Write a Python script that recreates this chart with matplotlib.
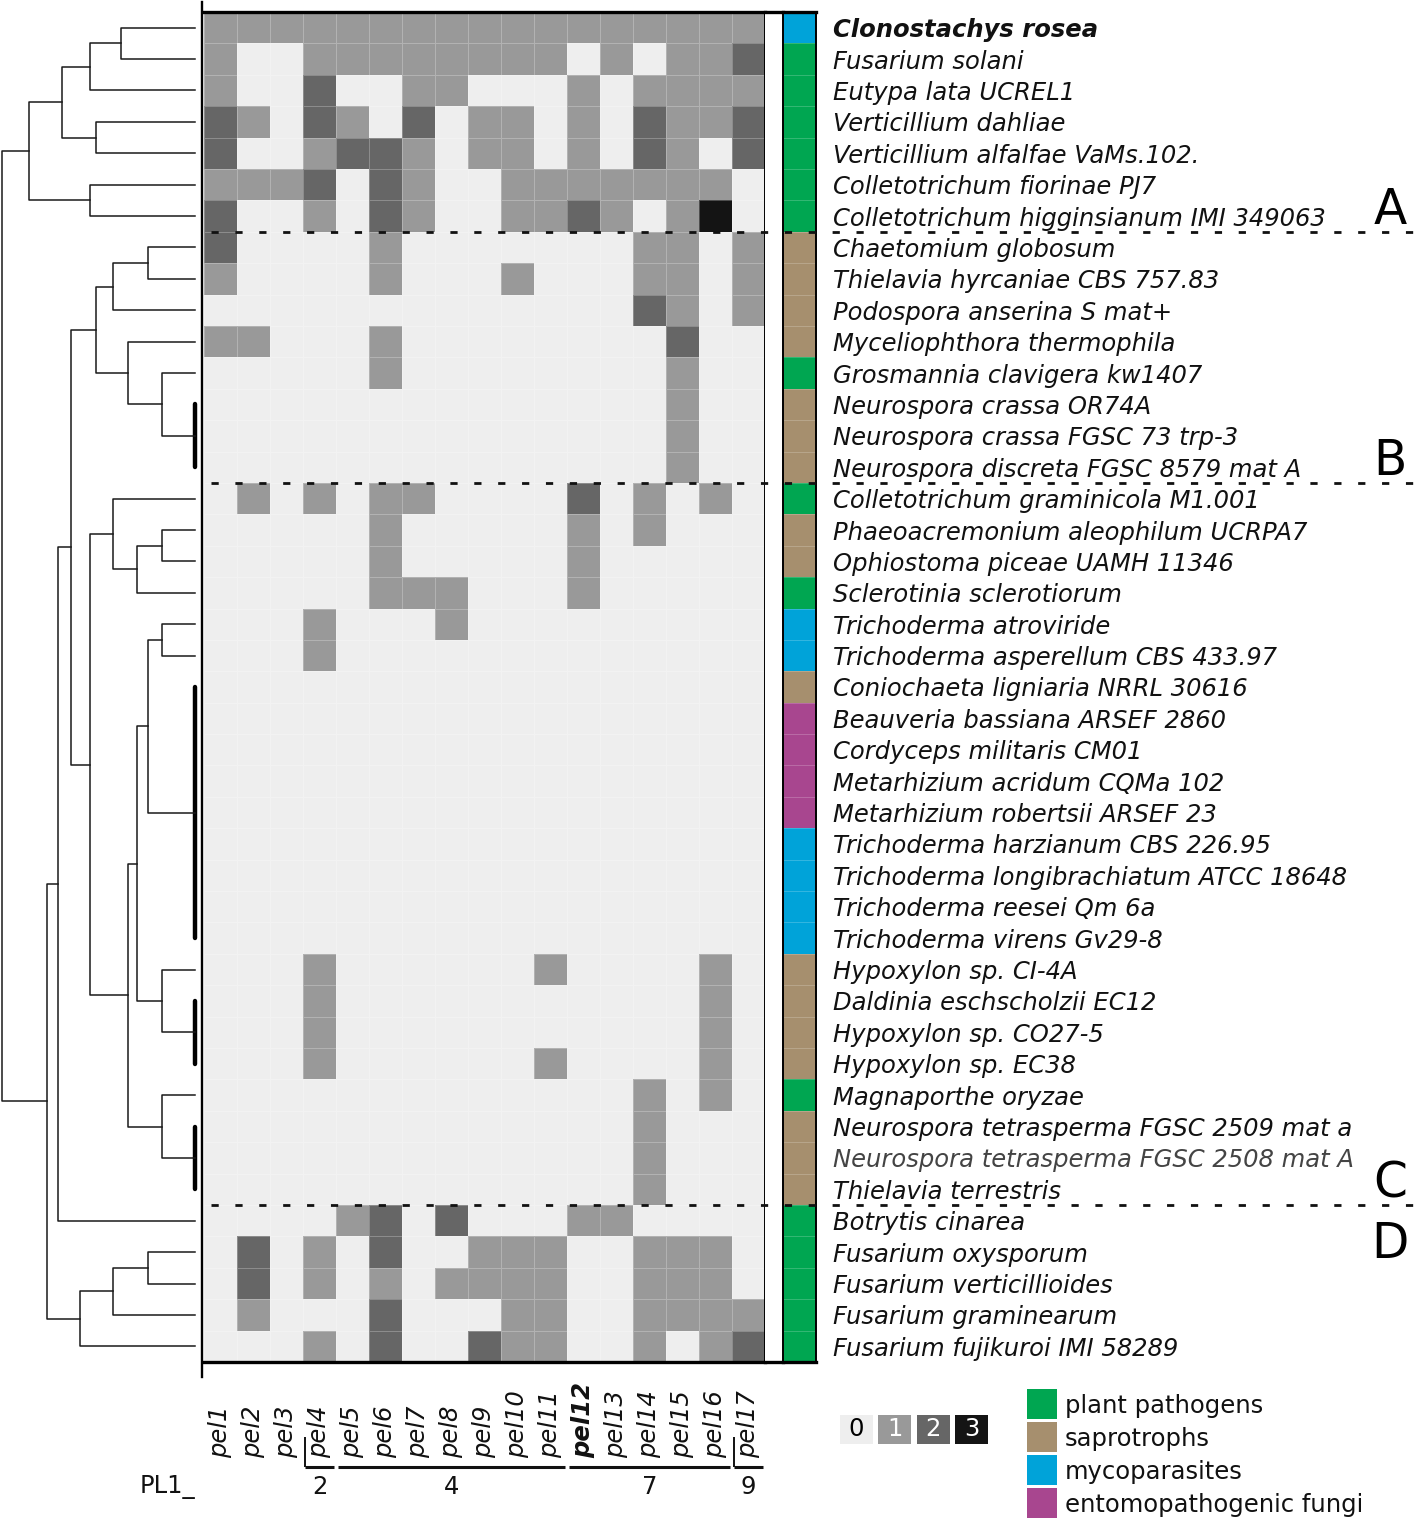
import numpy as np
import matplotlib
matplotlib.use('Agg')
import matplotlib.pyplot as plt
from matplotlib.colors import ListedColormap
from matplotlib.lines import Line2D
from matplotlib.transforms import blended_transform_factory

species = ['Clonostachys rosea', 'Fusarium solani', 'Eutypa lata UCREL1',
           'Verticillium dahliae', 'Verticillium alfalfae VaMs.102.',
           'Colletotrichum fiorinae PJ7', 'Colletotrichum higginsianum IMI 349063',
           'Chaetomium globosum', 'Thielavia hyrcaniae CBS 757.83',
           'Podospora anserina S mat+', 'Myceliophthora thermophila',
           'Grosmannia clavigera kw1407', 'Neurospora crassa OR74A',
           'Neurospora crassa FGSC 73 trp-3', 'Neurospora discreta FGSC 8579 mat A',
           'Colletotrichum graminicola M1.001', 'Phaeoacremonium aleophilum UCRPA7',
           'Ophiostoma piceae UAMH 11346', 'Sclerotinia sclerotiorum',
           'Trichoderma atroviride', 'Trichoderma asperellum CBS 433.97',
           'Coniochaeta ligniaria NRRL 30616', 'Beauveria bassiana ARSEF 2860',
           'Cordyceps militaris CM01', 'Metarhizium acridum CQMa 102',
           'Metarhizium robertsii ARSEF 23', 'Trichoderma harzianum CBS 226.95',
           'Trichoderma longibrachiatum ATCC 18648', 'Trichoderma reesei Qm 6a',
           'Trichoderma virens Gv29-8', 'Hypoxylon sp. CI-4A',
           'Daldinia eschscholzii EC12', 'Hypoxylon sp. CO27-5', 'Hypoxylon sp. EC38',
           'Magnaporthe oryzae', 'Neurospora tetrasperma FGSC 2509 mat a',
           'Neurospora tetrasperma FGSC 2508 mat A', 'Thielavia terrestris',
           'Botrytis cinarea', 'Fusarium oxysporum', 'Fusarium verticillioides',
           'Fusarium graminearum', 'Fusarium fujikuroi IMI 58289']

genes = ['pel%d' % i for i in range(1, 18)]

# copies of each pel gene (columns) per species (rows)
counts = [
    [1, 1, 1, 1, 1, 1, 1, 1, 1, 1, 1, 1, 1, 1, 1, 1, 1],
    [1, 0, 0, 1, 1, 1, 1, 1, 1, 1, 1, 0, 1, 0, 1, 1, 2],
    [1, 0, 0, 2, 0, 0, 1, 1, 0, 0, 0, 1, 0, 1, 1, 1, 1],
    [2, 1, 0, 2, 1, 0, 2, 0, 1, 1, 0, 1, 0, 2, 1, 1, 2],
    [2, 0, 0, 1, 2, 2, 1, 0, 1, 1, 0, 1, 0, 2, 1, 0, 2],
    [1, 1, 1, 2, 0, 2, 1, 0, 0, 1, 1, 1, 1, 1, 1, 1, 0],
    [2, 0, 0, 1, 0, 2, 1, 0, 0, 1, 1, 2, 1, 0, 1, 3, 0],
    [2, 0, 0, 0, 0, 1, 0, 0, 0, 0, 0, 0, 0, 1, 1, 0, 1],
    [1, 0, 0, 0, 0, 1, 0, 0, 0, 1, 0, 0, 0, 1, 1, 0, 1],
    [0, 0, 0, 0, 0, 0, 0, 0, 0, 0, 0, 0, 0, 2, 1, 0, 1],
    [1, 1, 0, 0, 0, 1, 0, 0, 0, 0, 0, 0, 0, 0, 2, 0, 0],
    [0, 0, 0, 0, 0, 1, 0, 0, 0, 0, 0, 0, 0, 0, 1, 0, 0],
    [0, 0, 0, 0, 0, 0, 0, 0, 0, 0, 0, 0, 0, 0, 1, 0, 0],
    [0, 0, 0, 0, 0, 0, 0, 0, 0, 0, 0, 0, 0, 0, 1, 0, 0],
    [0, 0, 0, 0, 0, 0, 0, 0, 0, 0, 0, 0, 0, 0, 1, 0, 0],
    [0, 1, 0, 1, 0, 1, 1, 0, 0, 0, 0, 2, 0, 1, 0, 1, 0],
    [0, 0, 0, 0, 0, 1, 0, 0, 0, 0, 0, 1, 0, 1, 0, 0, 0],
    [0, 0, 0, 0, 0, 1, 0, 0, 0, 0, 0, 1, 0, 0, 0, 0, 0],
    [0, 0, 0, 0, 0, 1, 1, 1, 0, 0, 0, 1, 0, 0, 0, 0, 0],
    [0, 0, 0, 1, 0, 0, 0, 1, 0, 0, 0, 0, 0, 0, 0, 0, 0],
    [0, 0, 0, 1, 0, 0, 0, 0, 0, 0, 0, 0, 0, 0, 0, 0, 0],
    [0, 0, 0, 0, 0, 0, 0, 0, 0, 0, 0, 0, 0, 0, 0, 0, 0],
    [0, 0, 0, 0, 0, 0, 0, 0, 0, 0, 0, 0, 0, 0, 0, 0, 0],
    [0, 0, 0, 0, 0, 0, 0, 0, 0, 0, 0, 0, 0, 0, 0, 0, 0],
    [0, 0, 0, 0, 0, 0, 0, 0, 0, 0, 0, 0, 0, 0, 0, 0, 0],
    [0, 0, 0, 0, 0, 0, 0, 0, 0, 0, 0, 0, 0, 0, 0, 0, 0],
    [0, 0, 0, 0, 0, 0, 0, 0, 0, 0, 0, 0, 0, 0, 0, 0, 0],
    [0, 0, 0, 0, 0, 0, 0, 0, 0, 0, 0, 0, 0, 0, 0, 0, 0],
    [0, 0, 0, 0, 0, 0, 0, 0, 0, 0, 0, 0, 0, 0, 0, 0, 0],
    [0, 0, 0, 0, 0, 0, 0, 0, 0, 0, 0, 0, 0, 0, 0, 0, 0],
    [0, 0, 0, 1, 0, 0, 0, 0, 0, 0, 1, 0, 0, 0, 0, 1, 0],
    [0, 0, 0, 1, 0, 0, 0, 0, 0, 0, 0, 0, 0, 0, 0, 1, 0],
    [0, 0, 0, 1, 0, 0, 0, 0, 0, 0, 0, 0, 0, 0, 0, 1, 0],
    [0, 0, 0, 1, 0, 0, 0, 0, 0, 0, 1, 0, 0, 0, 0, 1, 0],
    [0, 0, 0, 0, 0, 0, 0, 0, 0, 0, 0, 0, 0, 1, 0, 1, 0],
    [0, 0, 0, 0, 0, 0, 0, 0, 0, 0, 0, 0, 0, 1, 0, 0, 0],
    [0, 0, 0, 0, 0, 0, 0, 0, 0, 0, 0, 0, 0, 1, 0, 0, 0],
    [0, 0, 0, 0, 0, 0, 0, 0, 0, 0, 0, 0, 0, 1, 0, 0, 0],
    [0, 0, 0, 0, 1, 2, 0, 2, 0, 0, 0, 1, 1, 0, 0, 0, 0],
    [0, 2, 0, 1, 0, 2, 0, 0, 1, 1, 1, 0, 0, 1, 1, 1, 0],
    [0, 2, 0, 1, 0, 1, 0, 1, 1, 1, 1, 0, 0, 1, 1, 1, 0],
    [0, 1, 0, 0, 0, 2, 0, 0, 0, 1, 1, 0, 0, 1, 1, 1, 1],
    [0, 0, 0, 1, 0, 2, 0, 0, 2, 1, 1, 0, 0, 1, 0, 1, 2],
]

lifestyles = ['plant pathogens', 'saprotrophs', 'mycoparasites', 'entomopathogenic fungi']
lifestyle = [2, 0, 0, 0, 0, 0, 0, 1, 1, 1, 1, 0, 1, 1, 1, 0, 1, 1, 0, 2, 2, 1,
             3, 3, 3, 3, 2, 2, 2, 2, 1, 1, 1, 1, 0, 1, 1, 1, 0, 0, 0, 0, 0]
life_colors = ['#00a651', '#a68f6e', '#00a3d9', '#a8468f']
gray_colors = ['#eeeeee', '#999999', '#666666', '#141414']

# PL1_ subfamilies: (label, first gene, last gene)
groups = [('2', 3, 3), ('4', 4, 10), ('7', 11, 15), ('9', 16, 16)]
# clades: (label, last row of clade)
clades = [('A', 7), ('B', 15), ('C', 38)]

# dendrogram: (distance, left, right); ints are rows, lists are identical rows
tree = (100.0,
        (85.7,
         (68.6, (54.3, (38.4, 0, 1), 2), (51.4, 3, 4)),
         (54.3, 5, 6)),
        (76.7,
         (70.7,
          (64.3,
           (51.4,
            (42.3, (24.5, 7, 8), 9),
            (34.5, 10, (17.2, 11, [12, 13, 14]))),
           (54.3,
            (42.3, 15, (30.2, (17.2, 16, 17), 18)),
            (34.5,
             (30.2,
              (24.5, (17.2, 19, 20), list(range(21, 30))),
              (17.2, 30, [31, 32, 33])),
             (17.2, 34, [35, 36, 37])))),
          38),
         (59.5, (42.3, (24.5, 39, 40), 41), 42)))

W, H = 1418, 1520
FS = 17.5


def px_box(x0, y0, x1, y1):
    return [x0 / W, 1 - y1 / H, (x1 - x0) / W, (y1 - y0) / H]


fig = plt.figure(figsize=(W / 100, H / 100), dpi=100)
fig.patch.set_facecolor('white')

n_rows, n_cols = len(species), len(genes)
data = np.array(counts)

# heatmap
ax_heat = fig.add_axes(px_box(204, 12, 765, 1362))
ax_heat.pcolormesh(data, cmap=ListedColormap(gray_colors), vmin=-0.5, vmax=3.5,
                   edgecolors=(1, 1, 1, 0.25), linewidth=0.6)
ax_heat.set_xlim(0, n_cols)
ax_heat.set_ylim(n_rows, 0)
ax_heat.set_xticks([])
ax_heat.set_yticks([])

ax_gap = fig.add_axes(px_box(765, 12, 783, 1362))
ax_gap.set_xticks([])
ax_gap.set_yticks([])

ax_life = fig.add_axes(px_box(783, 12, 816, 1362))
ax_life.pcolormesh(np.array(lifestyle)[:, None], cmap=ListedColormap(life_colors),
                   vmin=-0.5, vmax=3.5, edgecolors=(1, 1, 1, 0.2), linewidth=0.5)
ax_life.set_xlim(0, 1)
ax_life.set_ylim(n_rows, 0)
ax_life.set_xticks([])
ax_life.yaxis.tick_right()
ax_life.set_yticks(np.arange(n_rows) + 0.5)
ax_life.set_yticklabels(species, fontsize=FS, style='italic', color='#111111')
ax_life.tick_params(axis='y', length=0, pad=12)
ax_life.get_yticklabels()[0].set_fontweight('bold')
ax_life.get_yticklabels()[36].set_color('#444444')

for ax in (ax_heat, ax_gap, ax_life):
    ax.spines['top'].set_linewidth(2.4)
    ax.spines['bottom'].set_linewidth(2.4)
    ax.spines['left'].set_linewidth(1.4)
    ax.spines['right'].set_linewidth(1.4)
ax_heat.spines['left'].set_visible(False)
ax_gap.spines['left'].set_visible(False)
ax_gap.spines['right'].set_visible(False)

# long left edge of the heatmap
fig.add_artist(Line2D([202 / W, 202 / W], [1 - 2 / H, 1 - 1377 / H], lw=1.7, color='black'))

# clade separators and letters
sep_tr = blended_transform_factory(fig.transFigure, ax_heat.transData)
for label, last in clades:
    fig.add_artist(Line2D([211 / W, 1415 / W], [last, last], transform=sep_tr,
                          color='#111111', lw=2.0, dashes=(2.6, 6.0)))
    fig.text(1390 / W, last - 0.25, label, transform=sep_tr, fontsize=35,
             ha='center', va='baseline')
fig.text(1390 / W, clades[-1][1] + 1.7, 'D', transform=sep_tr, fontsize=35,
         ha='center', va='baseline')

# dendrogram
ax_tree = fig.add_axes(px_box(0, 12, 204, 1362))
ax_tree.set_xlim(100.9, -4.66)
ax_tree.set_ylim(n_rows, 0)
ax_tree.axis('off')


def draw(node):
    if isinstance(node, int):
        return 0.0, node + 0.5
    if isinstance(node, list):
        y0, y1 = node[0] + 0.5, node[-1] + 0.5
        ax_tree.plot([0, 0], [y0, y1], color='black', lw=3.2, solid_capstyle='round')
        return 0.0, (y0 + y1) / 2
    h, left, right = node
    hl, yl = draw(left)
    hr, yr = draw(right)
    ax_tree.plot([hl, h, h, hr], [yl, yl, yr, yr], color='#1a1a1a', lw=1.1)
    return h, (yl + yr) / 2


draw(tree)

# gene names under the columns
col_tr = blended_transform_factory(ax_heat.transData, fig.transFigure)
for i, g in enumerate(genes):
    ax_heat.text(i + 0.5, 1 - 1458 / H, g, transform=col_tr, rotation=90,
                 ha='center', va='bottom', fontsize=FS, style='italic',
                 fontweight='bold' if g == 'pel12' else 'normal', color='#111111')

# PL1_ subfamilies
fig.text(140 / W, 1 - 1487 / H, 'PL1_', fontsize=FS, va='center', ha='left', color='#111111')
y_line = 1 - 1467 / H
for label, a, b in groups:
    ax_heat.plot([a + 0.05, b + 0.95], [y_line, y_line], transform=col_tr,
                 color='#111111', lw=2.2, clip_on=False, solid_capstyle='butt')
    if a == b:
        ax_heat.plot([a + 0.05, a + 0.05], [1 - 1437 / H, y_line], transform=col_tr,
                     color='#111111', lw=1.4, clip_on=False, solid_capstyle='butt')
    ax_heat.text((a + b + 1) / 2, 1 - 1487 / H, label, transform=col_tr,
                 ha='center', va='center', fontsize=FS, color='#111111')

# copy number key
ax_scale = fig.add_axes(px_box(837, 1415, 991, 1444))
levels = np.arange(len(gray_colors))
ax_scale.bar(levels, 1, width=0.86, color=gray_colors)
for lv in levels:
    ax_scale.text(lv, 0.5, str(lv), ha='center', va='center', fontsize=FS,
                  color='black' if lv == 0 else 'white')
ax_scale.set_xlim(-0.5, len(levels) - 0.5)
ax_scale.set_ylim(0, 1)
ax_scale.axis('off')

# lifestyle key
ax_key = fig.add_axes(px_box(1025, 1387, 1058, 1519))
ax_key.pcolormesh(np.arange(len(lifestyles))[:, None], cmap=ListedColormap(life_colors),
                  vmin=-0.5, vmax=3.5, edgecolors='white', linewidth=0.8)
ax_key.set_ylim(len(lifestyles), 0)
ax_key.set_xticks([])
ax_key.yaxis.tick_right()
ax_key.set_yticks(np.arange(len(lifestyles)) + 0.5)
ax_key.set_yticklabels(lifestyles, fontsize=FS, color='#111111')
ax_key.tick_params(axis='y', length=0, pad=5)
for s in ax_key.spines.values():
    s.set_visible(False)

fig.savefig('out.png', dpi=100, facecolor='white')
